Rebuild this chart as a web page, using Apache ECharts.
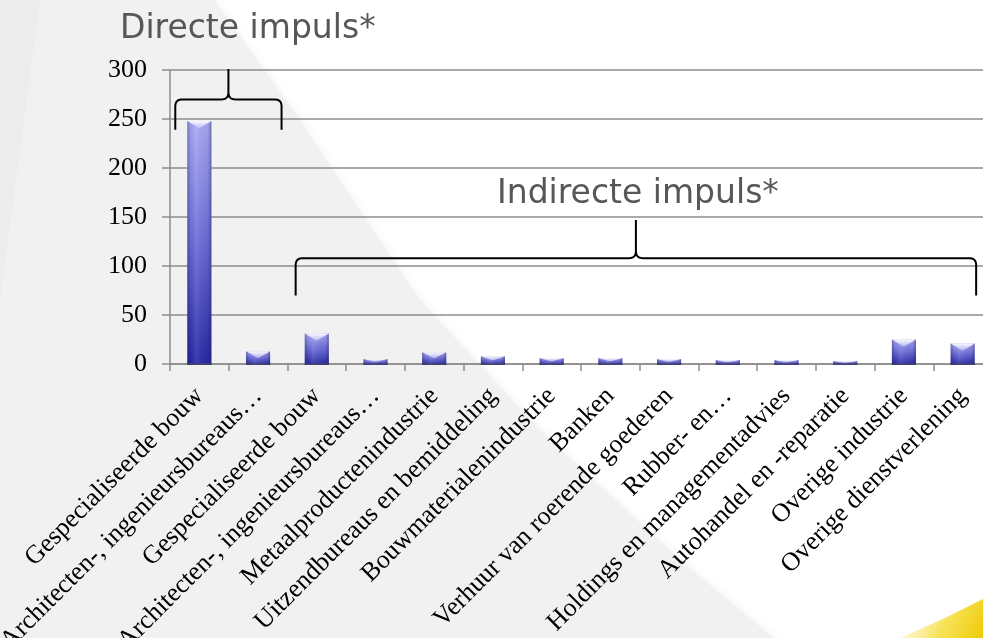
<!DOCTYPE html>
<html>
<head>
<meta charset="utf-8">
<script src="https://cdn.jsdelivr.net/npm/echarts@6/dist/echarts.min.js"></script>
<style>
  html, body { margin: 0; padding: 0; background: #ffffff; }
  #chart { width: 983px; height: 638px; }
</style>
</head>
<body>
<div id="chart"></div>
<script>
// Sectors receiving the impulse (x-axis categories)
const categories = [
  'Gespecialiseerde bouw',
  'Architecten-, ingenieursbureaus…',
  'Gespecialiseerde bouw',
  'Architecten-, ingenieursbureaus…',
  'Metaalproductenindustrie',
  'Uitzendbureaus en bemiddeling',
  'Bouwmaterialenindustrie',
  'Banken',
  'Verhuur van roerende goederen',
  'Rubber- en…',
  'Holdings en managementadvies',
  'Autohandel en -reparatie',
  'Overige industrie',
  'Overige dienstverlening'
];

// Impulse per sector
const values = [248, 13, 31, 5, 12, 8, 6, 6, 5, 4, 4, 3, 25, 21];

// Value axis ticks
const yTicks = [0, 50, 100, 150, 200, 250, 300];

// Group annotations
const groupTitles = ['Directe impuls*', 'Indirecte impuls*'];

const chart = echarts.init(document.getElementById('chart'));

// Bevelled bar drawn through the axes' scales
function renderBar(params, api) {
  const i = api.value(0);
  const v = api.value(1);
  const top = api.coord([i, v]);
  const base = api.coord([i, 0]);
  const bw = api.size([1, 0])[0] * 0.41;
  const x0 = top[0] - bw / 2;
  const x1 = top[0] + bw / 2;
  const yt = top[1];
  const yb = base[1] + 1;
  const h = yb - yt;
  const d = Math.min(bw * 0.3, h * 0.5);
  return {
    type: 'group',
    children: [
      {
        type: 'rect',
        shape: { x: x0, y: yt, width: bw, height: h },
        style: {
          fill: new echarts.graphic.LinearGradient(0, 0, 0, 1, [
            { offset: 0, color: '#a9a9f3' },
            { offset: 0.5, color: '#6a6ad6' },
            { offset: 1, color: '#2626a4' }
          ])
        }
      },
      {
        type: 'rect',
        shape: { x: x0, y: yt, width: bw, height: h },
        style: {
          fill: new echarts.graphic.LinearGradient(0, 0, 1, 0, [
            { offset: 0, color: 'rgba(20,20,70,0.35)' },
            { offset: 0.14, color: 'rgba(20,20,70,0.05)' },
            { offset: 0.35, color: 'rgba(255,255,255,0.10)' },
            { offset: 0.86, color: 'rgba(20,20,70,0.05)' },
            { offset: 1, color: 'rgba(20,20,70,0.40)' }
          ])
        }
      },
      {
        type: 'polygon',
        shape: { points: [[x0, yt], [x1, yt], [top[0], yt + d]] },
        style: {
          fill: new echarts.graphic.LinearGradient(0, 0, 0, 1, [
            { offset: 0, color: 'rgba(255,255,255,0.95)' },
            { offset: 1, color: 'rgba(215,215,255,0.55)' }
          ])
        }
      },
      {
        type: 'rect',
        shape: { x: x0, y: yb - 2, width: bw, height: 2 },
        style: { fill: 'rgba(70,70,100,0.75)' }
      }
    ]
  };
}

chart.setOption({
  animation: false,
  backgroundColor: 'transparent',
  grid: {
    left: 170, top: 70, right: -9, bottom: 274,
    containLabel: false,
    outerBoundsMode: 'none'
  },
  xAxis: {
    type: 'category',
    data: categories,
    boundaryGap: true,
    axisLine: { show: true, lineStyle: { color: '#8c8c8c', width: 1.5 } },
    axisTick: { show: true, length: 7, lineStyle: { color: '#8c8c8c', width: 1.5 } },
    axisLabel: {
      interval: 0,
      rotate: 45,
      margin: 28,
      align: 'right',
      verticalAlign: 'middle',
      fontFamily: 'Liberation Serif',
      fontSize: 26,
      color: '#000000'
    },
    splitLine: { show: false }
  },
  yAxis: {
    type: 'value',
    min: yTicks[0],
    max: yTicks[yTicks.length - 1],
    interval: yTicks[1] - yTicks[0],
    axisLine: { show: true, lineStyle: { color: '#8c8c8c', width: 1.5 } },
    axisTick: { show: true, length: 8, lineStyle: { color: '#8c8c8c', width: 1.5 } },
    axisLabel: {
      margin: 23,
      fontFamily: 'Liberation Serif',
      fontSize: 26,
      color: '#000000'
    },
    splitLine: { show: true, lineStyle: { color: '#8c8c8c', width: 1.5 } }
  },
  series: [{
    type: 'custom',
    renderItem: renderBar,
    data: values.map((v, i) => [i, v]),
    z: 5
  }]
});

// Curly brace between two x positions (in category units), built as a polyline
function bracePoints(xl, xr, yEnd, yBar, yTip) {
  const pts = [];
  const r = 7;
  const xm = (xl + xr) / 2;
  const quad = (p0, p1, p2) => {
    for (let t = 0.1; t <= 1.0001; t += 0.1) {
      const a = (1 - t) * (1 - t), b = 2 * (1 - t) * t, c = t * t;
      pts.push([a * p0[0] + b * p1[0] + c * p2[0], a * p0[1] + b * p1[1] + c * p2[1]]);
    }
  };
  pts.push([xl, yEnd]);
  pts.push([xl, yBar + r]);
  quad([xl, yBar + r], [xl, yBar], [xl + r, yBar]);
  pts.push([xm - r, yBar]);
  quad([xm - r, yBar], [xm, yBar], [xm, yBar - r]);
  pts.push([xm, yTip]);
  pts.push([xm, yBar - r]);
  quad([xm, yBar - r], [xm, yBar], [xm + r, yBar]);
  pts.push([xr - r, yBar]);
  quad([xr - r, yBar], [xr, yBar], [xr, yBar + r]);
  pts.push([xr, yEnd]);
  return pts;
}

function drawAnnotations() {
  const c0 = chart.convertToPixel({ xAxisIndex: 0 }, 0);
  const c1 = chart.convertToPixel({ xAxisIndex: 0 }, 1);
  const band = c1 - c0;
  const edge = (k) => c0 - band / 2 + k * band;
  const yPix = (v) => chart.convertToPixel({ yAxisIndex: 0 }, v);

  const directe = bracePoints(edge(0.09), edge(1.9), yPix(239), yPix(270), yPix(301));
  const indirecte = bracePoints(edge(2.14), edge(13.73), yPix(70), yPix(108), yPix(147));

  chart.setOption({
    graphic: [
      // page backdrop: soft grey wedge on the left with a curved edge
      {
        type: 'polygon', z: -100, silent: true, smooth: 0.3,
        shape: { points: [[-20, -20], [200, -20], [300, 120], [420, 300], [540, 430], [680, 560], [800, 660], [-20, 660]] },
        style: { fill: '#f1f1f1', shadowBlur: 10, shadowColor: '#f1f1f1' }
      },
      {
        type: 'polygon', z: -99, silent: true,
        shape: { points: [[0, 0], [40, 0], [0, 300]] },
        style: { fill: 'rgba(228,228,228,0.3)', shadowBlur: 30, shadowColor: 'rgba(228,228,228,0.3)' }
      },
      // yellow swoosh in the lower-right corner
      {
        type: 'polygon', z: -98, silent: true, smooth: 0.4,
        shape: { points: [[895, 640], [945, 618], [985, 598], [985, 640]] },
        style: {
          fill: new echarts.graphic.LinearGradient(0, 0, 1, 1, [
            { offset: 0, color: 'rgba(255,250,225,0.2)' },
            { offset: 0.55, color: 'rgba(245,222,60,0.85)' },
            { offset: 1, color: '#efc800' }
          ])
        }
      },
      {
        type: 'polyline', z: 50, silent: true,
        shape: { points: directe },
        style: { stroke: '#000000', lineWidth: 2, fill: null }
      },
      {
        type: 'polyline', z: 50, silent: true,
        shape: { points: indirecte },
        style: { stroke: '#000000', lineWidth: 2, fill: null }
      },
      {
        type: 'text', z: 50, silent: true,
        x: 120, y: 29,
        style: {
          text: groupTitles[0],
          font: '33px "DejaVu Sans"',
          fill: '#575757',
          verticalAlign: 'middle'
        }
      },
      {
        type: 'text', z: 50, silent: true,
        x: 497, y: 194,
        style: {
          text: groupTitles[1],
          font: '33px "DejaVu Sans"',
          fill: '#575757',
          verticalAlign: 'middle'
        }
      }
    ]
  });
}

drawAnnotations();
</script>
</body>
</html>
